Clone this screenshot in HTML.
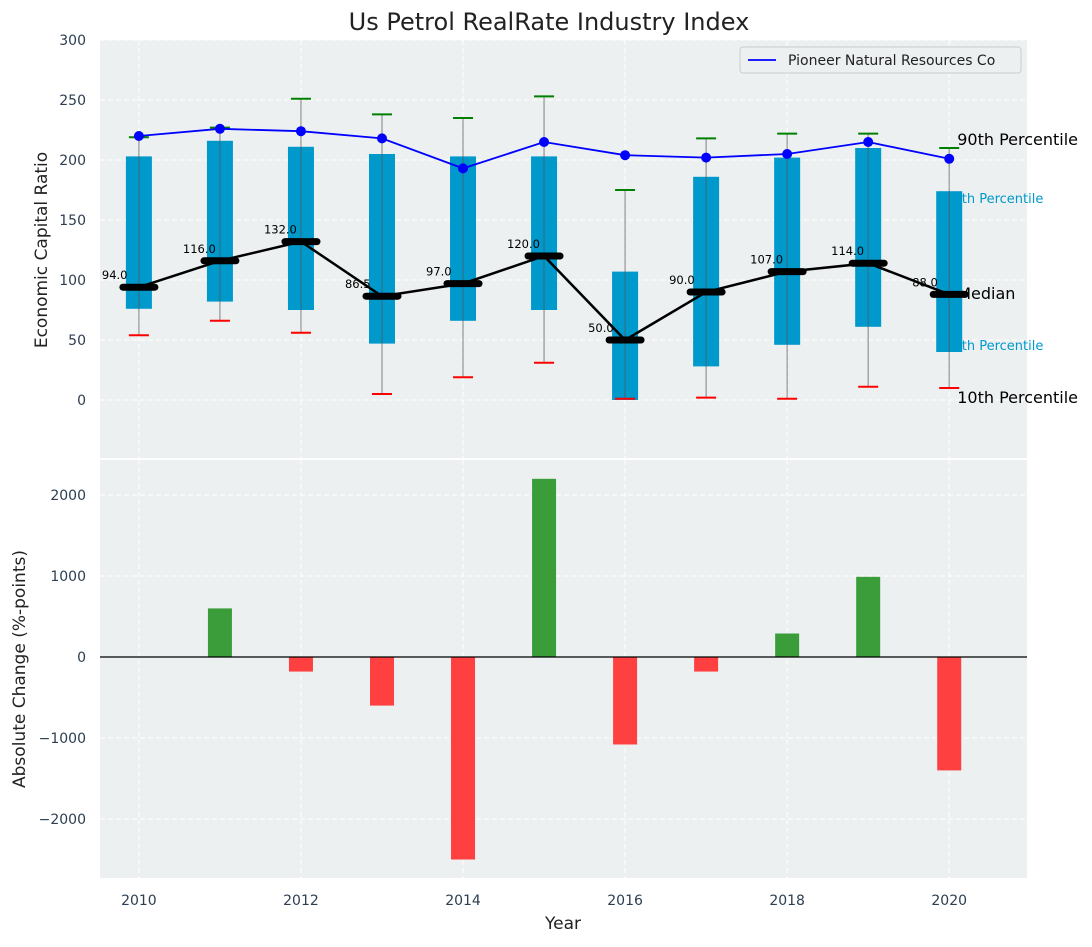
<!DOCTYPE html>
<html><head><meta charset="utf-8"><style>
body{margin:0;background:#fff;font-family:"Liberation Sans","DejaVu Sans",sans-serif}
svg text{font-family:"DejaVu Sans","Liberation Sans",sans-serif}
</style></head><body>
<svg id="c" width="1092" height="942" xmlns="http://www.w3.org/2000/svg"></svg>
<script>
const years=[2010,2011,2012,2013,2014,2015,2016,2017,2018,2019,2020];
const p10=[54,66,56,5,19,31,1,2,1,11,10];
const q25=[76,82,75,47,66,75,0,28,46,61,40];
const medians=[94,116,132,86.5,97,120,50,90,107,114,88];
const q75=[203,216,211,205,203,203,107,186,202,210,174];
const p90=[219,227,251,238,235,253,175,218,222,222,210];
const pioneer=[220,226,224,218,193,215,204,202,205,215,201];
const changes=[0,600,-180,-600,-2500,2200,-1080,-180,290,990,-1400];
const yTicksTop=[0,50,100,150,200,250,300];
const yTicksBot=[-2000,-1000,0,1000,2000];
const xTicks=[2010,2012,2014,2016,2018,2020];

const svg=document.getElementById('c');const NS='http://www.w3.org/2000/svg';
function el(t,a,txt){const e=document.createElementNS(NS,t);for(const k in a)e.setAttribute(k,a[k]);if(txt!==undefined)e.textContent=txt;svg.appendChild(e);return e;}
const L=100,R=1027,T1=40,B1=458,T2=460,B2=878;
const x=v=>L+(v-2009.52)/(2020.96-2009.52)*(R-L);
const y1=v=>400-v*1.2;
const y2=v=>657-v*0.081;
let e;
e=el('rect',{x:L,y:T1,width:R-L,height:B1-T1,fill:'#ecf0f1'});

e=el('rect',{x:L,y:T2,width:R-L,height:B2-T2,fill:'#ecf0f1'});

xTicks.forEach(t=>{
 el('line',{x1:x(t),x2:x(t),y1:T1,y2:B1,stroke:'#fff','stroke-dasharray':'5,3'});
 el('line',{x1:x(t),x2:x(t),y1:T2,y2:B2,stroke:'#fff','stroke-dasharray':'5,3'});
 e=el('text',{x:x(t),y:905,'text-anchor':'middle','font-size':14,fill:'#2c3e50'},t);
 
});
yTicksTop.forEach(t=>{
 el('line',{x1:L,x2:R,y1:y1(t),y2:y1(t),stroke:'#fff','stroke-dasharray':'5,3'});
 e=el('text',{x:L-14,y:y1(t)+5,'text-anchor':'end','font-size':14,fill:'#2c3e50'},t);
 
});
yTicksBot.forEach(t=>{
 el('line',{x1:L,x2:R,y1:y2(t),y2:y2(t),stroke:'#fff','stroke-dasharray':'5,3'});
 e=el('text',{x:L-14,y:y2(t)+5,'text-anchor':'end','font-size':14,fill:'#2c3e50'},t==0?'0':String(t).replace('-','\u2212'));
 
});
const lx=x(2020)+8;
[['90th Percentile',145,'#000',16],['75th Percentile',203,'#0099cc',13],['Median',299,'#000',16],['25th Percentile',350,'#0099cc',13],['10th Percentile',403,'#000',16]].forEach((d,i)=>{
 e=el('text',{x:i%2?lx-12:lx,y:d[1],'font-size':d[3],fill:d[2]},d[0]);
 
});
years.forEach((yr,i)=>{
 const cx=x(yr);
 e=el('rect',{x:cx-13,y:y1(q75[i]),width:26,height:y1(q25[i])-y1(q75[i]),fill:'#0099cc'});
 
 el('line',{x1:cx,x2:cx,y1:y1(p90[i]),y2:y1(p10[i]),stroke:'#555','stroke-opacity':0.6,'stroke-width':1.2});
 e=el('line',{x1:cx-10,x2:cx+10,y1:y1(p90[i]),y2:y1(p90[i]),stroke:'green','stroke-width':2});
 
 e=el('line',{x1:cx-10,x2:cx+10,y1:y1(p10[i]),y2:y1(p10[i]),stroke:'red','stroke-width':2});
 
});
e=el('polyline',{points:years.map((yr,i)=>x(yr)+','+y1(medians[i])).join(' '),fill:'none',stroke:'#000','stroke-width':2.5});

years.forEach((yr,i)=>{
 e=el('line',{x1:x(yr)-16,x2:x(yr)+16,y1:y1(medians[i]),y2:y1(medians[i]),stroke:'#000','stroke-width':7,'stroke-linecap':'round'});
 
 e=el('text',{x:x(yr)-37,y:y1(medians[i])-8,'font-size':11.5,fill:'#000'},medians[i].toFixed(1));
 
});
e=el('polyline',{points:years.map((yr,i)=>x(yr)+','+y1(pioneer[i])).join(' '),fill:'none',stroke:'blue','stroke-width':1.8});

years.forEach((yr,i)=>{
 e=el('circle',{cx:x(yr),cy:y1(pioneer[i]),r:5,fill:'blue'});
 
});
e=el('rect',{x:740,y:47,width:281,height:26,rx:3,fill:'#ecf0f1',stroke:'#ccc'});

el('line',{x1:748,x2:776,y1:60,y2:60,stroke:'blue','stroke-width':1.8});
e=el('text',{x:788,y:65,'font-size':14,fill:'#222'},'Pioneer Natural Resources Co');

years.forEach((yr,i)=>{
 const v=changes[i];if(v===0)return;
 e=el('rect',{x:x(yr)-12,y:Math.min(y2(v),y2(0)),width:24,height:Math.abs(y2(v)-y2(0)),fill:v>0?'#3a9d3a':'#ff4040'});
 
});
el('line',{x1:L,x2:R,y1:y2(0),y2:y2(0),stroke:'#000','stroke-width':1.2});
e=el('text',{x:549,y:30,'text-anchor':'middle','font-size':24,fill:'#222'},'Us Petrol RealRate Industry Index');

e=el('text',{x:563,y:929,'text-anchor':'middle','font-size':17,fill:'#222'},'Year');

e=el('text',{x:0,y:0,'text-anchor':'middle','font-size':17,fill:'#222',transform:'translate(47,250) rotate(-90)'},'Economic Capital Ratio');

e=el('text',{x:0,y:0,'text-anchor':'middle','font-size':17,fill:'#222',transform:'translate(25,669) rotate(-90)'},'Absolute Change (%-points)');

</script>
</body></html>
